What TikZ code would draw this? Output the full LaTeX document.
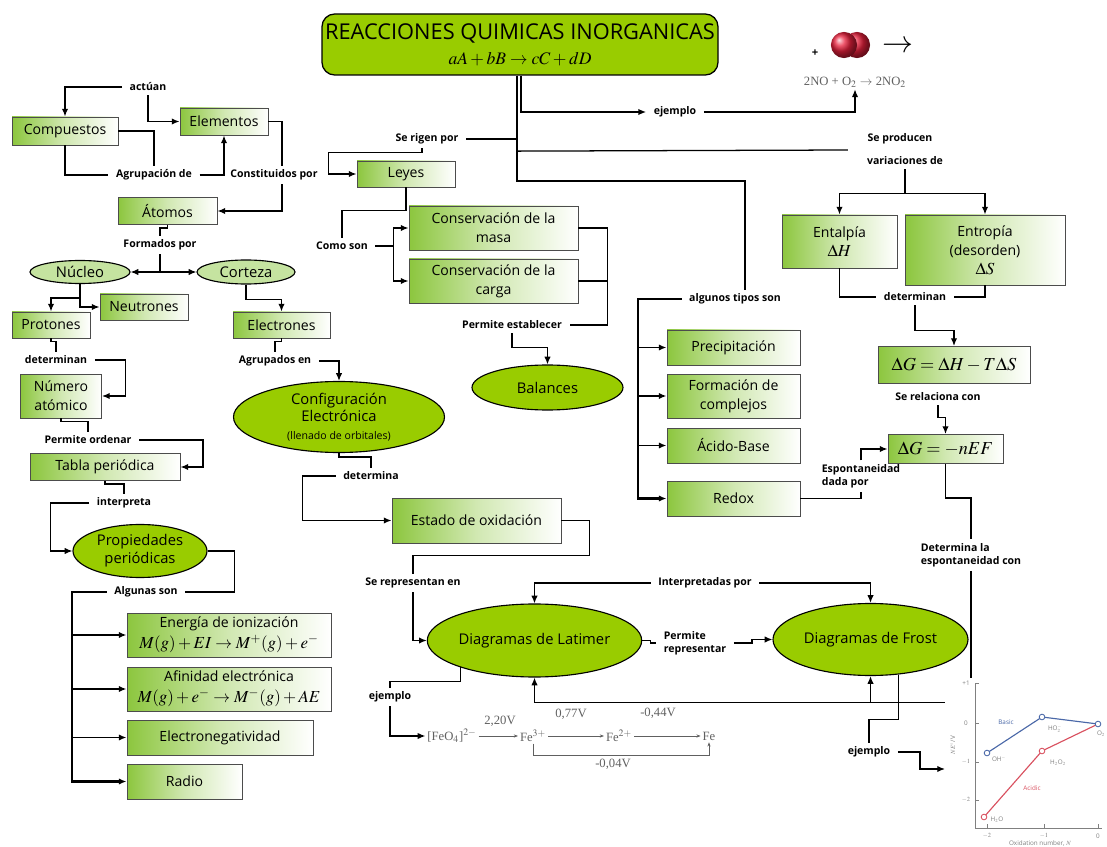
\documentclass[tikz,border=0pt]{standalone}
\usepackage{mathptmx}
\usepackage[no-math]{fontspec}
\setmainfont{Open Sans}
\newfontfamily\serif{Liberation Serif}
\usetikzlibrary{calc}
\usetikzlibrary{arrows.meta}
\usetikzlibrary{shapes.geometric}
\definecolor{lime}{HTML}{99CC00}
\definecolor{boxgreen}{HTML}{8CC63E}
\definecolor{paleg}{HTML}{C5E3A0}
\definecolor{latgray}{HTML}{606060}
\definecolor{basicblue}{HTML}{4A68A8}
\definecolor{acidred}{HTML}{D9505F}
\definecolor{crimson}{HTML}{E8203C}

\begin{document}
\begin{tikzpicture}[
        x=0.025cm, y=-0.025cm,
        line width=0.9pt,
        >={Latex[length=5.5pt,width=4.5pt]},
        sz/.style 2 args={minimum width=#1*0.025cm, minimum height=#2*0.025cm},
        box/.style={draw=black!70, line width=0.7pt, left color=boxgreen, right color=white, middle color=boxgreen!40, align=center, inner sep=1pt, font=\fontsize{10}{13.5}\selectfont},
        oval/.style={ellipse, draw, line width=0.8pt, fill=lime, align=center, inner sep=0pt, font=\fontsize{10.5}{13}\selectfont},
        lbl/.style={font=\bfseries\fontsize{7.5}{9}\selectfont, inner xsep=5pt, inner ysep=2.5pt, align=left},
        trunk/.style={line width=1.8pt},
        img/.style={text=latgray, font=\serif\fontsize{9}{10}\selectfont, inner sep=1pt},
        plt/.style={text=gray, font=\fontsize{4.5}{5}\selectfont, inner sep=0.5pt}
    ]
        \useasboundingbox (0,0) rectangle (1107,847);

        \node[draw, line width=0.9pt, rounded corners=9pt, fill=lime, sz={396}{61}, align=center, inner sep=1pt, font=\fontsize{15.5}{18}\selectfont] (title) at (520,44.5) {REACCIONES QUIMICAS INORGANICAS\\{\fontsize{12.5}{14}\selectfont$aA+bB\rightarrow cC+dD$}};

        \node[box, sz={106}{28}] (comp) at (65,131) {Compuestos};
        \node[box, sz={88}{27}] (elem) at (224,121.5) {Elementos};
        \node[box, sz={99}{27}] (atom) at (167.5,211) {Átomos};
        \node[oval, fill=paleg, sz={100}{23}] (nucl) at (80,272) {Núcleo};
        \node[oval, fill=paleg, sz={98}{24}] (cort) at (246,272) {Corteza};
        \node[box, sz={88}{26}] (neut) at (144,307) {Neutrones};
        \node[box, sz={78}{26}] (prot) at (51,325) {Protones};
        \node[box, sz={97}{26}] (elec) at (281.5,325) {Electrones};
        \node[box, sz={81}{44}] (numat) at (61,396) {Número\\atómico};
        \node[box, sz={150}{27}] (tabla) at (105,467) {Tabla periódica};
        \node[oval, sz={134}{53}] (prop) at (140,551) {Propiedades\\periódicas};
        \node[box, sz={204}{44}, font=\fontsize{10}{15}\selectfont] (ener) at (229,635) {Energía de ionización\\{\fontsize{12}{13}\selectfont$M(g)+EI\rightarrow M^{+}(g)+e^{-}$}};
        \node[box, sz={204}{44}, font=\fontsize{10}{15}\selectfont] (afin) at (229,689) {Afinidad electrónica\\{\fontsize{12}{13}\selectfont$M(g)+e^{-}\rightarrow M^{-}(g)+AE$}};
        \node[box, sz={186}{35}] (eneg) at (220,737.5) {Electronegatividad};
        \node[box, sz={115}{35}] (radio) at (184.5,781.5) {Radio};

        \node[box, sz={98}{26}] (leyes) at (406,174) {Leyes};
        \node[box, sz={169}{44}] (masa) at (493.5,228) {Conservación de la\\masa};
        \node[box, sz={169}{44}] (carga) at (493.5,281) {Conservación de la\\carga};
        \node[oval, sz={151}{45}] (bal) at (547.5,387.5) {Balances};
        \node[oval, sz={211}{71}, font=\fontsize{10.5}{12.5}\selectfont] (conf) at (339,417) {Configuración\\Electrónica\\{\fontsize{7.5}{9}\selectfont(llenado de orbitales)}};
        \node[box, sz={169}{45}] (estado) at (476.5,520.5) {Estado de oxidación};
        \node[oval, sz={195}{73}] (lat) at (534.5,640.5) {Diagramas de Latimer};
        \node[oval, sz={195}{72}] (fro) at (870.5,639.5) {Diagramas de Frost};

        \node[box, sz={133}{35}] (prec) at (733.5,347.5) {Precipitación};
        \node[box, sz={133}{44}] (form) at (733.5,396) {Formación de\\complejos};
        \node[box, sz={133}{35}] (acid) at (733.5,445.5) {Ácido-Base};
        \node[box, sz={133}{35}] (redox) at (733.5,498.5) {Redox};
        \node[box, sz={115}{53}] (ental) at (839.5,241.5) {Entalpía\\{\fontsize{12}{13}\selectfont$\Delta H$}};
        \node[box, sz={160}{70}] (entro) at (985,250) {Entropía\\(desorden)\\{\fontsize{12}{13}\selectfont$\Delta S$}};
        \node[box, sz={152}{37}, font=\fontsize{13}{14}\selectfont] (dg1) at (954,365) {$\Delta G=\Delta H-T\Delta S$};
        \node[box, sz={115}{29}, font=\fontsize{13}{14}\selectfont] (dg2) at (945.5,449) {$\Delta G=-nEF$};

        \node[lbl] (actuan) at (148,87) {actúan};
        \node[lbl] (agr) at (154,175) {Agrupación de};
        \node[lbl] (const) at (274,175) {Constituidos por};
        \node[lbl] (formados) at (160,245) {Formados por};
        \node[lbl] (detn) at (56,360) {determinan};
        \node[lbl] (agrup) at (275,361) {Agrupados en};
        \node[lbl] (perord) at (88,440) {Permite ordenar};
        \node[lbl] (interp) at (124,503) {interpreta};
        \node[lbl] (algunas) at (146,592) {Algunas son};
        \node[lbl] (rigen) at (427,139) {Se rigen por};
        \node[lbl] (como) at (342,246) {Como son};
        \node[lbl] (permest) at (512,325) {Permite establecer};
        \node[lbl] (ejem1) at (675,112) {ejemplo};
        \node[lbl] (produc) at (900,139) {Se producen};
        \node[lbl] (variac) at (905,161) {variaciones de};
        \node[lbl] (tipos) at (735,299) {algunos tipos son};
        \node[lbl] (deter2) at (915,297) {determinan};
        \node[lbl] (relac) at (938,397) {Se relaciona con};
        \node[lbl] (espdada) at (861,476) {Espontaneidad\\dada por};
        \node[lbl] (detesp) at (971,555) {Determina la\\espontaneidad con};
        \node[lbl] (determina) at (371,476) {determina};
        \node[lbl] (serep) at (413,583) {Se representan en};
        \node[lbl] (interpor) at (705,583) {Interpretadas por};
        \node[lbl] (permrep) at (695,643) {Permite\\representar};
        \node[lbl] (ejem2) at (390,697) {ejemplo};
        \node[lbl] (ejem3) at (869,752) {ejemplo};

        \node[font=\bfseries\fontsize{8}{8}\selectfont] (plus) at (815,53) {+};
        \shade[ball color=crimson] (857,45) circle (9.3pt);
        \shade[ball color=crimson] (844,45) circle (9.3pt);
        \node[font=\fontsize{22}{22}\selectfont] (arr) at (898,47) {$\rightarrow$};
        \node[img] (eq) at (855,82) {2NO + O$_2$ $\rightarrow$ 2NO$_2$};

        \node[img] (feo) at (452,736) {[FeO$_4$]$^{2-}$};
        \node[img] (fe3) at (533,736) {Fe$^{3+}$};
        \node[img] (fe2) at (619,736) {Fe$^{2+}$};
        \node[img] (fe) at (709,736) {Fe};
        \node[img] (v1) at (500,721) {2,20V};
        \node[img] (v2) at (571,714) {0,77V};
        \node[img] (v3) at (658,713) {-0,44V};
        \node[img] (v4) at (613,764) {-0,04V};
        \draw[->, latgray, line width=0.5pt, >={Stealth[length=3pt]}] (feo) -- (fe3);
        \draw[->, latgray, line width=0.5pt, >={Stealth[length=3pt]}] (fe3) -- (fe2);
        \draw[->, latgray, line width=0.5pt, >={Stealth[length=3pt]}] (fe2) -- (fe);
        \draw[->, latgray, line width=0.5pt, >={Stealth[length=3pt]}] (fe3.south) -- ++(0,12) -| (fe.south);

        \coordinate (tr) at ($(title.south)+(-3,0)$);
        \draw[->] ($(title.south)+(1,0)$) |- (ejem1.west);
        \draw[->] (ejem1.east) -| (eq.south);
        \draw (tr) |- (rigen.east);
        \draw ($(tr)+(0,75.5)$) -- ($(produc.west)+(-12,11)$);
        \draw (tr) -- ++(0,105.5) -| ($(tipos.north)+(10,0)$);
        \draw[->] ($(rigen.south)+(-5,0)$) -- ++(0,4) -| ($(leyes.west)+(-28,0)$) -- (leyes.west);

        \draw[->] (actuan.west) -| (comp.north);
        \draw[->] (actuan.south) |- (elem.west);
        \draw (comp.east) -| (agr.north);
        \draw (comp.south) |- (agr.west);
        \draw[->] (agr.east) -| (elem.south);
        \draw (elem.east) -| ($(const.north)+(8,0)$);
        \draw[->] ($(const.south)+(8,0)$) |- (atom.east);
        \draw (atom.south) -- ++(0,3) -| (formados.north);
        \draw[->] (formados.south) |- (nucl.east);
        \draw[->] (formados.south) |- (cort.west);
        \draw[->] (nucl.south) |- (neut.west);
        \draw[->] (nucl.south) -- ++(0,14) -| (prot.north);
        \draw[->] (cort.south) -- ++(0,15) -| (elec.north);
        \draw (prot.south) -- ++(0,3) -| (detn.north);
        \draw[->] (detn.east) -- ++(31,0) |- (numat.east);
        \draw (numat.south) -- ++(0,3) -| (perord.north);
        \draw[->] (perord.east) -- ++(64,0) |- (tabla.east);
        \draw (tabla.south) -- ++(0,3) -| (interp.north);
        \draw[->] (interp.west) -- ++(-39,0) |- (prop.west);
        \draw (prop.east) -- ++(27,0) |- (algunas.east);
        \coordinate (lt) at (72,592);
        \draw[trunk] (algunas.west) -- (lt) |- ($(radio.west)+(-6,0)$);
        \foreach \n in {ener,afin,eneg,radio}
            \draw[line width=1.3pt, ->] (\n.west -| lt) -- (\n.west);

        \draw (leyes.south) -- ++(0,23) -| (como.north);
        \draw[->] (como.east) -- ++(18,0) |- (masa.west);
        \draw[->] (como.east) -- ++(18,0) |- (carga.west);
        \draw (masa.east) -- ++(29,0) |- (permest.east);
        \draw (carga.east) -- ++(29,0);
        \draw[->] (permest.south) -- ++(0,14) -| (bal.north);

        \draw (elec.south) -- ++(0,3) -| (agrup.north);
        \draw[->] (agrup.east) -| (conf.north);
        \draw (conf.south) -- ++(0,4) -| (determina.north);
        \draw[->] (determina.west) -- ++(-33,0) |- (estado.west);
        \draw (estado.east) -- ++(28,0) -- ++(0,35) -| (serep.north);
        \draw[->] (serep.south) |- (lat.west);
        \draw[->] (interpor.west) -| (lat.north);
        \draw[->] (interpor.east) -| (fro.north);
        \draw (lat.east) -- ++(8,0) |- (permrep.west);
        \draw[->] (permrep.east) -- ++(18,0) |- (fro.west);
        \draw (lat.200) -- ++(0,14) -| (ejem2.north);
        \draw[->] (ejem2.south) |- (feo.west);
        \draw (fro.309) -- ++(0,45) -| (ejem3.north);
        \coordinate (plot) at (945,769);
        \draw[->] (ejem3.east) -- ++(22,0) |- (plot);

        \coordinate (rt) at (638,299);
        \draw[trunk] (tipos.west) -- (rt) |- ($(redox.west)+(-6,0)$);
        \foreach \n in {prec,form,acid,redox}
            \draw[line width=1.3pt, ->] (\n.west -| rt) -- (\n.west);
        \draw (redox.east) -| (espdada.south);
        \draw[->] (espdada.north) |- (dg2.west);

        \draw[->] (variac.south) -- ++(0,24) -| (ental.north);
        \draw[->] (variac.south) -- ++(0,24) -| (entro.north);
        \draw (ental.south) |- (deter2.west);
        \draw (entro.south) |- (deter2.east);
        \draw[->] (deter2.south) -- ++(0,25) -| (dg1.north);
        \draw[->] (relac.south) -- ++(0,12) -| (dg2.north);
        \draw (dg2.south) -- ++(0,34) -| (detesp.north);
        \coordinate (bot) at ($(detesp.south)+(0,132)$);
        \draw[->] (detesp.south) -- (bot) -| (lat.south);
        \draw[->] (fro.south |- bot) -- (fro.south);

        \fill[white] (945,678) rectangle (1107,847);
        \draw[gray, line width=0.5pt] (975,683) -- (975,828) -- (1102,828);
        \foreach \y/\t [count=\i] in {683/+1,723/0,762/$-1$,800/$-2$} {
            \draw[gray, line width=0.4pt] (975,\y) -- ++(4,0);
            \node[plt] (yt\i) at (966,\y) {\t};
        }
        \foreach \x/\t [count=\i] in {987/$-2$,1044/$-1$,1098/0} {
            \draw[gray, line width=0.4pt] (\x,828) -- ++(0,-4);
            \node[plt] (xt\i) at (\x,836) {\t};
        }
        \draw[basicblue, line width=0.8pt] (987,753) -- (1042,717) -- (1098,724);
        \draw[acidred, line width=0.8pt] (984,817) -- (1042,751) -- (1098,724);
        \foreach \p in {(987,753),(1042,717),(1098,724)}
            \draw[basicblue, line width=0.6pt, fill=white] \p circle (2pt);
        \foreach \p in {(984,817),(1042,751)}
            \draw[acidred, line width=0.6pt, fill=white] \p circle (2pt);
        \node[plt, text=basicblue] (basic) at (1006,722) {Basic};
        \node[plt] (ho2) at (1055,729) {HO$_2^-$};
        \node[plt] (ohm) at (999,759) {OH$^-$};
        \node[plt] (o2) at (1101,734) {O$_2$};
        \node[plt] (h2o2) at (1058,763) {H$_2$O$_2$};
        \node[plt, text=acidred] (acidic) at (1032,788) {Acidic};
        \node[plt] (h2o) at (997,820) {H$_2$O};
        \node[plt, rotate=90] (ylab) at (953,745) {$NE^\circ$/V};
        \node[plt] (xlab) at (1040,844) {Oxidation number, $N$};
    \end{tikzpicture}
\end{document}
